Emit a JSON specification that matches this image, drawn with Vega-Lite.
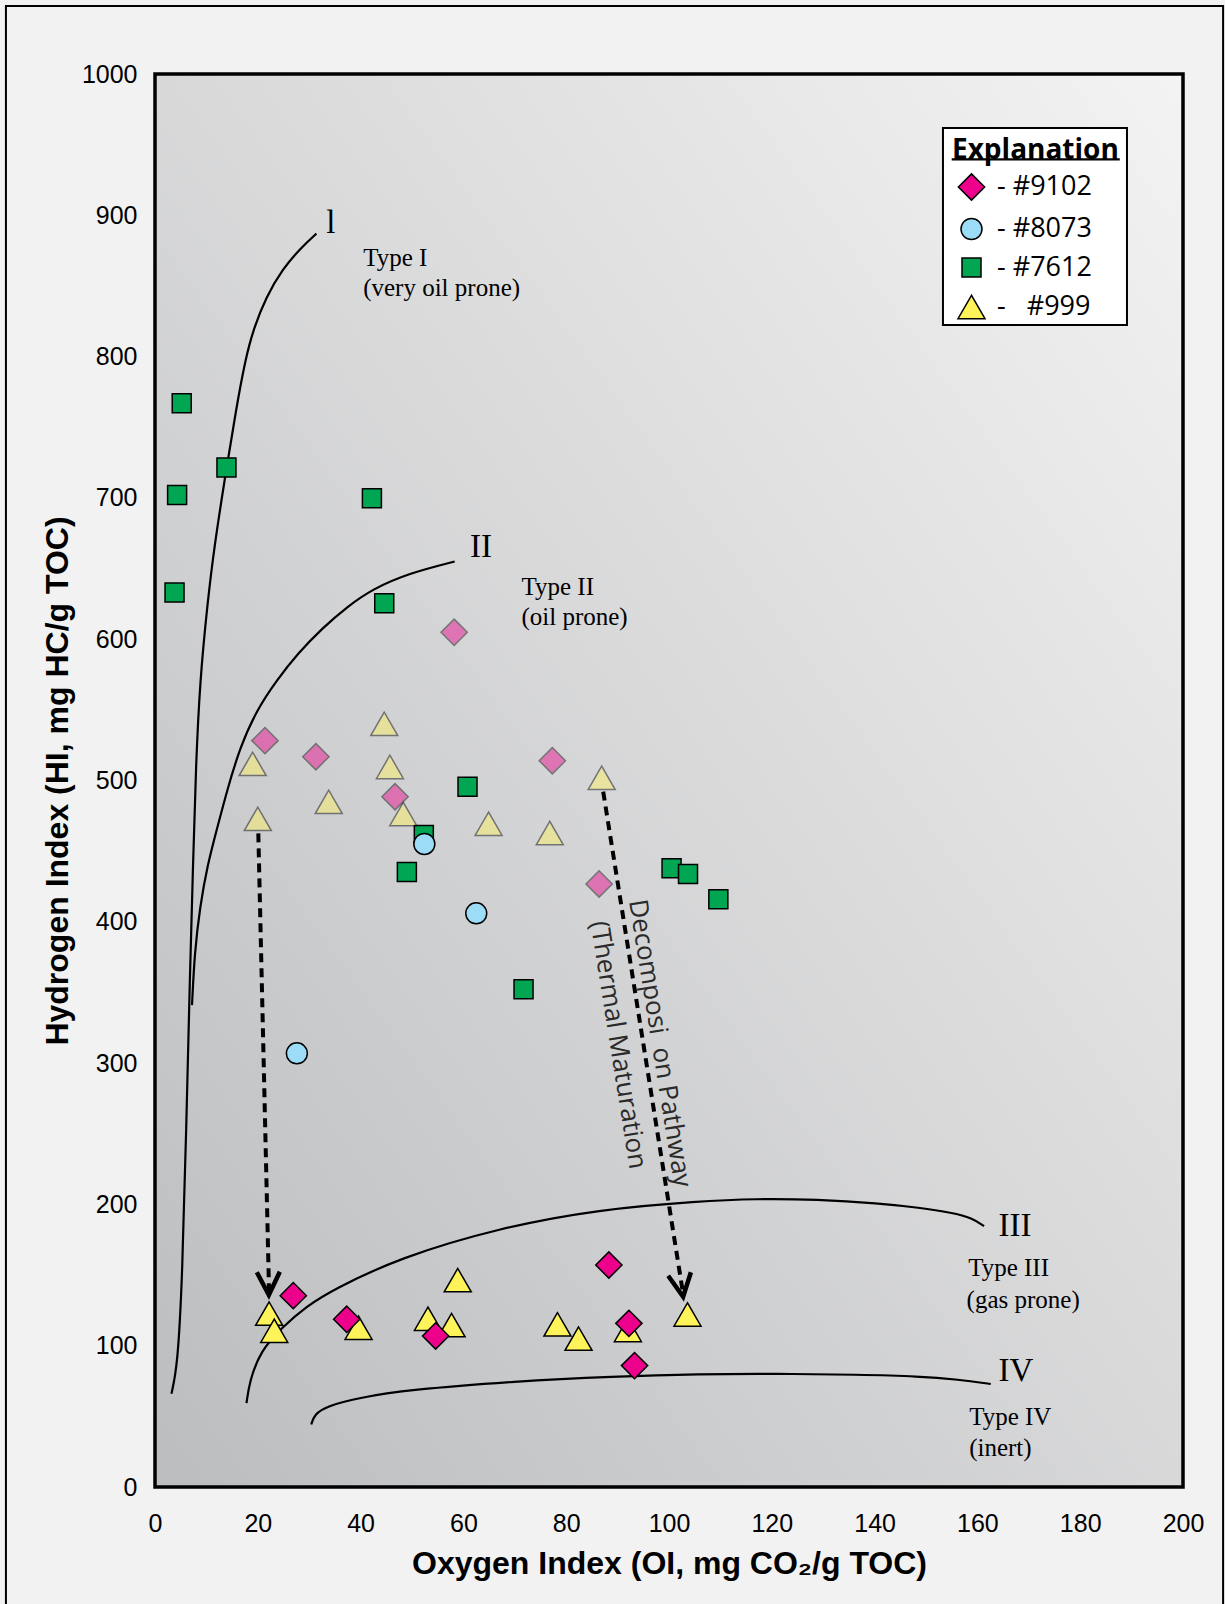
{
  "$schema": "https://vega.github.io/schema/vega-lite/v6.json",
  "width": 1028,
  "height": 1413,
  "autosize": {"type": "none"},
  "padding": {"left": 155, "top": 74, "right": 42, "bottom": 117},
  "background": "#f2f2f2",
  "config": {"view": {"stroke": null}, "font": "Liberation Sans"},
  "datasets": {
    "frame": [{"oi": -29.0, "oi2": 207.8, "hi": -100, "hi2": 1048.1}],
    "plotbox": [{"oi": 0, "oi2": 200, "hi": 0, "hi2": 1000}],
    "legendbox": [{"oi": 153.3, "oi2": 189.1, "hi": 822.4, "hi2": 961.8}],
    "underline": [{"oi": 155.0, "oi2": 187.7, "hi": 939.6}],
    "curves": [
      {"curve": "I", "ord": 1, "oi": 3.2, "hi": 66},
      {"curve": "I", "ord": 2, "oi": 4.4, "hi": 86},
      {"curve": "I", "ord": 3, "oi": 5.3, "hi": 147},
      {"curve": "I", "ord": 4, "oi": 6.1, "hi": 256},
      {"curve": "I", "ord": 5, "oi": 6.8, "hi": 364},
      {"curve": "I", "ord": 6, "oi": 7.4, "hi": 440},
      {"curve": "I", "ord": 7, "oi": 7.95, "hi": 510},
      {"curve": "I", "ord": 8, "oi": 8.75, "hi": 571},
      {"curve": "I", "ord": 9, "oi": 10.2, "hi": 625},
      {"curve": "I", "ord": 10, "oi": 11.5, "hi": 665},
      {"curve": "I", "ord": 11, "oi": 13.95, "hi": 722},
      {"curve": "I", "ord": 12, "oi": 15.66, "hi": 760},
      {"curve": "I", "ord": 13, "oi": 17.54, "hi": 797.6},
      {"curve": "I", "ord": 14, "oi": 19.2, "hi": 820},
      {"curve": "I", "ord": 15, "oi": 21.6, "hi": 842},
      {"curve": "I", "ord": 16, "oi": 24.8, "hi": 862},
      {"curve": "I", "ord": 17, "oi": 28.4, "hi": 877},
      {"curve": "I", "ord": 18, "oi": 31.4, "hi": 887},
      {"curve": "II", "ord": 1, "oi": 7.2, "hi": 341},
      {"curve": "II", "ord": 2, "oi": 7.7, "hi": 378},
      {"curve": "II", "ord": 3, "oi": 8.75, "hi": 410.7},
      {"curve": "II", "ord": 4, "oi": 10.2, "hi": 440},
      {"curve": "II", "ord": 5, "oi": 12.0, "hi": 465},
      {"curve": "II", "ord": 6, "oi": 14.1, "hi": 494},
      {"curve": "II", "ord": 7, "oi": 16.5, "hi": 523},
      {"curve": "II", "ord": 8, "oi": 19.8, "hi": 550},
      {"curve": "II", "ord": 9, "oi": 23.7, "hi": 571},
      {"curve": "II", "ord": 10, "oi": 27.8, "hi": 590},
      {"curve": "II", "ord": 11, "oi": 32.6, "hi": 608},
      {"curve": "II", "ord": 12, "oi": 37.4, "hi": 623},
      {"curve": "II", "ord": 13, "oi": 42.3, "hi": 635.5},
      {"curve": "II", "ord": 14, "oi": 49.3, "hi": 646.6},
      {"curve": "II", "ord": 15, "oi": 58.3, "hi": 655},
      {"curve": "III", "ord": 1, "oi": 17.8, "hi": 59.4},
      {"curve": "III", "ord": 2, "oi": 18.4, "hi": 74.9},
      {"curve": "III", "ord": 3, "oi": 20.5, "hi": 96.3},
      {"curve": "III", "ord": 4, "oi": 24.9, "hi": 113.6},
      {"curve": "III", "ord": 5, "oi": 29.4, "hi": 127.7},
      {"curve": "III", "ord": 6, "oi": 34.6, "hi": 139.6},
      {"curve": "III", "ord": 7, "oi": 47.5, "hi": 162.2},
      {"curve": "III", "ord": 8, "oi": 67.0, "hi": 183.4},
      {"curve": "III", "ord": 9, "oi": 86.4, "hi": 196.5},
      {"curve": "III", "ord": 10, "oi": 105.9, "hi": 202.3},
      {"curve": "III", "ord": 11, "oi": 116.9, "hi": 204.0},
      {"curve": "III", "ord": 12, "oi": 128.8, "hi": 203.5},
      {"curve": "III", "ord": 13, "oi": 140.8, "hi": 200.8},
      {"curve": "III", "ord": 14, "oi": 148.7, "hi": 197.7},
      {"curve": "III", "ord": 15, "oi": 155.1, "hi": 194.1},
      {"curve": "III", "ord": 16, "oi": 159.0, "hi": 190.4},
      {"curve": "III", "ord": 17, "oi": 161.3, "hi": 184.6},
      {"curve": "IV", "ord": 1, "oi": 30.4, "hi": 44.2},
      {"curve": "IV", "ord": 2, "oi": 31.0, "hi": 51.4},
      {"curve": "IV", "ord": 3, "oi": 33.4, "hi": 57.2},
      {"curve": "IV", "ord": 4, "oi": 39.4, "hi": 63.0},
      {"curve": "IV", "ord": 5, "oi": 49.3, "hi": 68.8},
      {"curve": "IV", "ord": 6, "oi": 70.2, "hi": 74.9},
      {"curve": "IV", "ord": 7, "oi": 89.1, "hi": 78.2},
      {"curve": "IV", "ord": 8, "oi": 105.9, "hi": 80.0},
      {"curve": "IV", "ord": 9, "oi": 120.9, "hi": 80.2},
      {"curve": "IV", "ord": 10, "oi": 136.8, "hi": 79.5},
      {"curve": "IV", "ord": 11, "oi": 148.7, "hi": 78.4},
      {"curve": "IV", "ord": 12, "oi": 156.4, "hi": 76.0},
      {"curve": "IV", "ord": 13, "oi": 162.6, "hi": 72.9}
    ],
    "arrows": [
      {"arrow": "A", "ord": 1, "oi": 20.1, "hi": 462.6},
      {"arrow": "A", "ord": 2, "oi": 22.2, "hi": 136.5},
      {"arrow": "B", "ord": 1, "oi": 87.2, "hi": 492.1},
      {"arrow": "B", "ord": 2, "oi": 102.8, "hi": 135.5}
    ],
    "heads": [
      {"arrow": "A", "oi": 22.1, "hi": 144.0},
      {"arrow": "B", "oi": 102.4, "hi": 142.7}
    ],
    "points": [
      {"series": "#7612", "phase": "after", "oi": 5.2, "hi": 767},
      {"series": "#7612", "phase": "after", "oi": 13.9, "hi": 721.6},
      {"series": "#7612", "phase": "after", "oi": 4.3, "hi": 702},
      {"series": "#7612", "phase": "after", "oi": 42.2, "hi": 699.7},
      {"series": "#7612", "phase": "after", "oi": 3.8, "hi": 633},
      {"series": "#7612", "phase": "after", "oi": 44.6, "hi": 625.4},
      {"series": "#7612", "phase": "after", "oi": 60.8, "hi": 495.6},
      {"series": "#7612", "phase": "after", "oi": 52.3, "hi": 461.4},
      {"series": "#7612", "phase": "after", "oi": 49.0, "hi": 435.2},
      {"series": "#7612", "phase": "after", "oi": 71.7, "hi": 352.2},
      {"series": "#7612", "phase": "after", "oi": 100.5, "hi": 437.9},
      {"series": "#7612", "phase": "after", "oi": 103.7, "hi": 433.8},
      {"series": "#7612", "phase": "after", "oi": 109.6, "hi": 415.9},
      {"series": "#8073", "phase": "after", "oi": 52.4, "hi": 455.1},
      {"series": "#8073", "phase": "after", "oi": 62.5, "hi": 406.0},
      {"series": "#8073", "phase": "after", "oi": 27.6, "hi": 306.9},
      {"series": "#9102", "phase": "before", "oi": 21.4, "hi": 528.2},
      {"series": "#9102", "phase": "before", "oi": 31.3, "hi": 516.8},
      {"series": "#9102", "phase": "before", "oi": 46.7, "hi": 488.5},
      {"series": "#9102", "phase": "before", "oi": 77.3, "hi": 514.0},
      {"series": "#9102", "phase": "before", "oi": 86.4, "hi": 426.8},
      {"series": "#9102", "phase": "before", "oi": 58.2, "hi": 604.9},
      {"series": "#999", "phase": "before", "oi": 19.0, "hi": 511.8},
      {"series": "#999", "phase": "before", "oi": 20.0, "hi": 472.8},
      {"series": "#999", "phase": "before", "oi": 44.6, "hi": 540.1},
      {"series": "#999", "phase": "before", "oi": 45.7, "hi": 509.6},
      {"series": "#999", "phase": "before", "oi": 33.8, "hi": 484.9},
      {"series": "#999", "phase": "before", "oi": 48.3, "hi": 476.3},
      {"series": "#999", "phase": "before", "oi": 64.9, "hi": 469.4},
      {"series": "#999", "phase": "before", "oi": 76.8, "hi": 462.8},
      {"series": "#999", "phase": "before", "oi": 86.9, "hi": 501.9},
      {"series": "#999", "phase": "after", "oi": 22.2, "hi": 122.7},
      {"series": "#999", "phase": "after", "oi": 23.2, "hi": 110.6},
      {"series": "#999", "phase": "after", "oi": 39.6, "hi": 112.7},
      {"series": "#999", "phase": "after", "oi": 53.1, "hi": 119.1},
      {"series": "#999", "phase": "after", "oi": 57.7, "hi": 114.6},
      {"series": "#999", "phase": "after", "oi": 58.9, "hi": 146.4},
      {"series": "#999", "phase": "after", "oi": 78.3, "hi": 115.1},
      {"series": "#999", "phase": "after", "oi": 82.4, "hi": 105.0},
      {"series": "#999", "phase": "after", "oi": 92.0, "hi": 111.1},
      {"series": "#999", "phase": "after", "oi": 103.6, "hi": 122.1},
      {"series": "#9102", "phase": "after", "oi": 26.9, "hi": 135.4},
      {"series": "#9102", "phase": "after", "oi": 37.3, "hi": 118.7},
      {"series": "#9102", "phase": "after", "oi": 54.6, "hi": 106.9},
      {"series": "#9102", "phase": "after", "oi": 88.3, "hi": 157.1},
      {"series": "#9102", "phase": "after", "oi": 92.2, "hi": 115.8},
      {"series": "#9102", "phase": "after", "oi": 93.3, "hi": 85.9}
    ],
    "numerals": [
      {"label": "l", "oi": 33.3, "hi": 894.6},
      {"label": "II", "oi": 61.3, "hi": 665.2},
      {"label": "III", "oi": 164.1, "hi": 184.8},
      {"label": "IV", "oi": 164.1, "hi": 82.2}
    ],
    "descr": [
      {"label": "Type I", "oi": 40.5, "hi": 870.0},
      {"label": "(very oil prone)", "oi": 40.5, "hi": 848.3},
      {"label": "Type II", "oi": 71.3, "hi": 637.0},
      {"label": "(oil prone)", "oi": 71.3, "hi": 616.0},
      {"label": "Type III", "oi": 158.2, "hi": 154.8},
      {"label": "(gas prone)", "oi": 157.9, "hi": 132.3},
      {"label": "Type IV", "oi": 158.4, "hi": 49.8},
      {"label": "(inert)", "oi": 158.4, "hi": 27.6}
    ],
    "pathway": [
      {"label": "Decomposi\u00a0\u00a0on Pathway", "oi": 98.2, "hi": 314.0},
      {"label": "(Thermal Maturation", "oi": 90.1, "hi": 312.8}
    ]
  },
  "encoding": {
    "x": {
      "field": "oi", "type": "quantitative",
      "scale": {"domain": [0, 200], "nice": false, "zero": false},
      "axis": {
        "values": [0, 20, 40, 60, 80, 100, 120, 140, 160, 180, 200],
        "format": "d",
        "title": "Oxygen Index (OI, mg CO₂/g TOC)",
        "titleFont": "Liberation Sans", "titleFontSize": 32, "titleFontWeight": "bold", "titleColor": "#000", "titlePadding": 12,
        "labelFont": "Liberation Sans", "labelFontSize": 25, "labelColor": "#000", "labelPadding": 24,
        "labelFlush": false, "labelOverlap": false,
        "ticks": false, "tickSize": 0, "domain": false, "grid": false
      }
    },
    "y": {
      "field": "hi", "type": "quantitative",
      "scale": {"domain": [0, 1000], "nice": false, "zero": false},
      "axis": {
        "values": [0, 100, 200, 300, 400, 500, 600, 700, 800, 900, 1000],
        "format": "d",
        "title": "Hydrogen Index (HI, mg HC/g TOC)",
        "titleFont": "Liberation Sans", "titleFontSize": 32, "titleFontWeight": "bold", "titleColor": "#000", "titlePadding": 7,
        "labelFont": "Liberation Sans", "labelFontSize": 25, "labelColor": "#000", "labelPadding": 18,
        "labelFlush": false, "labelOverlap": false,
        "ticks": false, "tickSize": 0, "domain": false, "grid": false
      }
    }
  },
  "layer": [
    {
      "data": {"name": "frame"},
      "mark": {"type": "rect", "fill": "transparent", "stroke": "#000", "strokeWidth": 2, "clip": false},
      "encoding": {"x2": {"field": "oi2"}, "y2": {"field": "hi2"}}
    },
    {
      "data": {"name": "plotbox"},
      "mark": {"type": "rect", "fill": {"gradient": "linear", "x1": 0, "y1": 1, "x2": 1, "y2": 0, "stops": [{"offset": 0, "color": "#bcbdbf"}, {"offset": 1, "color": "#f3f3f3"}]}},
      "encoding": {"x2": {"field": "oi2"}, "y2": {"field": "hi2"}}
    },
    {
      "data": {"name": "legendbox"},
      "mark": {"type": "rect", "fill": "#ffffff", "stroke": "#000", "strokeWidth": 2},
      "encoding": {"x2": {"field": "oi2"}, "y2": {"field": "hi2"}}
    },
    {
      "data": {"name": "underline"},
      "mark": {"type": "rule", "stroke": "#000", "strokeWidth": 2.2},
      "encoding": {"x2": {"field": "oi2"}}
    },
    {
      "data": {"name": "curves"},
      "mark": {"type": "line", "stroke": "#000", "strokeWidth": 2.2, "interpolate": "basis"},
      "encoding": {"detail": {"field": "curve"}, "order": {"field": "ord", "type": "quantitative"}}
    },
    {
      "data": {"name": "arrows"},
      "mark": {"type": "line", "stroke": "#000", "strokeWidth": 4, "strokeDash": [9, 6]},
      "encoding": {"detail": {"field": "arrow"}, "order": {"field": "ord", "type": "quantitative"}}
    },
    {
      "data": {"name": "heads"},
      "transform": [{"filter": "datum.arrow == 'A'"}],
      "mark": {"type": "point", "shape": "M-1,-1L0,1L1,-1", "filled": false, "stroke": "#000", "strokeWidth": 4.5, "size": 529, "angle": 358.7, "opacity": 1, "strokeJoin": "miter"}
    },
    {
      "data": {"name": "heads"},
      "transform": [{"filter": "datum.arrow == 'B'"}],
      "mark": {"type": "point", "shape": "M-1,-1L0,1L1,-1", "filled": false, "stroke": "#000", "strokeWidth": 4.5, "size": 529, "angle": 351, "opacity": 1, "strokeJoin": "miter"}
    },
    {
      "data": {"name": "points"},
      "mark": {"type": "point", "filled": true, "stroke": "#000", "strokeWidth": 1.5},
      "encoding": {
        "color": {
          "field": "series", "type": "nominal",
          "scale": {"domain": ["#9102", "#8073", "#7612", "#999"], "range": ["#ec008c", "#9ddcf7", "#00a651", "#fff35a"]},
          "legend": {
            "title": "Explanation", "orient": "none", "legendX": 788, "legendY": 54,
            "padding": 9, "titlePadding": 8, "rowPadding": 10.5, "symbolOffset": 5, "labelOffset": 11,
            "titleFont": "Open Sans", "titleFontSize": 28, "titleFontWeight": "bold", "titleColor": "#000",
            "labelFont": "Open Sans", "labelFontSize": 27, "labelColor": "#000",
            "symbolStrokeColor": "#000", "symbolStrokeWidth": 1.5, "symbolOpacity": 1,
            "labelExpr": "datum.label == '#999' ? '-\u00a0\u00a0\u00a0#999' : '- ' + datum.label",
            "encode": {"symbols": {"update": {"opacity": {"value": 1}, "fillOpacity": {"value": 1}, "strokeOpacity": {"value": 1}}}}
          }
        },
        "shape": {
          "field": "series", "type": "nominal",
          "scale": {"domain": ["#9102", "#8073", "#7612", "#999"], "range": ["diamond", "circle", "square", "triangle-up"]}
        },
        "size": {
          "field": "series", "type": "nominal",
          "scale": {"type": "ordinal", "domain": ["#9102", "#8073", "#7612", "#999"], "range": [690, 440, 361, 729]}
        },
        "opacity": {
          "field": "phase", "type": "nominal",
          "scale": {"domain": ["before", "after"], "range": [0.45, 1]},
          "legend": null
        }
      }
    },
    {
      "data": {"name": "numerals"},
      "mark": {"type": "text", "font": "Liberation Serif", "fontSize": 33, "align": "left", "baseline": "middle", "color": "#000"},
      "encoding": {"text": {"field": "label"}}
    },
    {
      "data": {"name": "descr"},
      "mark": {"type": "text", "font": "Liberation Serif", "fontSize": 25, "align": "left", "baseline": "middle", "color": "#000"},
      "encoding": {"text": {"field": "label"}}
    },
    {
      "data": {"name": "pathway"},
      "mark": {"type": "text", "font": "Open Sans", "fontSize": 26, "align": "center", "baseline": "middle", "angle": 81, "color": "#2a2a2a"},
      "encoding": {"text": {"field": "label"}}
    },
    {
      "data": {"name": "plotbox"},
      "mark": {"type": "rect", "fill": "transparent", "stroke": "#000", "strokeWidth": 3.5},
      "encoding": {"x2": {"field": "oi2"}, "y2": {"field": "hi2"}}
    }
  ]
}
